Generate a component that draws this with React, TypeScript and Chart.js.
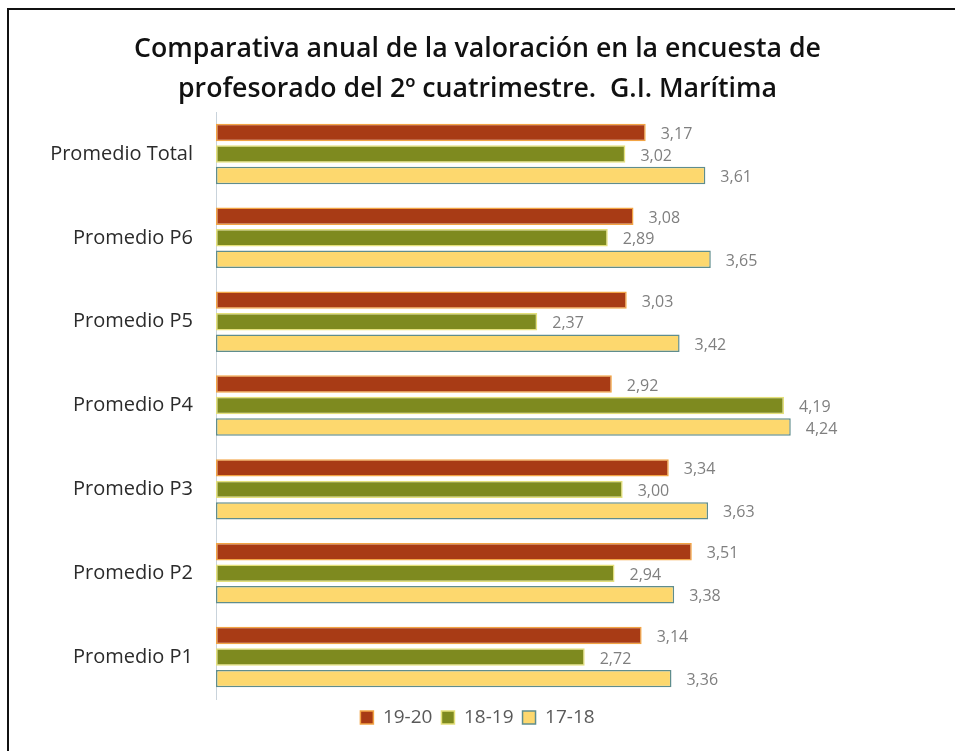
import React, { useEffect, useRef } from "react";
import { Chart, registerables } from "chart.js";

Chart.register(...registerables);

const categories = [
  "Promedio Total",
  "Promedio P6",
  "Promedio P5",
  "Promedio P4",
  "Promedio P3",
  "Promedio P2",
  "Promedio P1",
];
const series1920 = [3.17, 3.08, 3.03, 2.92, 3.34, 3.51, 3.14];
const series1819 = [3.02, 2.89, 2.37, 4.19, 3.0, 2.94, 2.72];
const series1718 = [3.61, 3.65, 3.42, 4.24, 3.63, 3.38, 3.36];
const seriesLabels = ["19-20", "18-19", "17-18"];
const titleLines = [
  "Comparativa anual de la valoración en la encuesta de",
  "profesorado del 2º cuatrimestre.  G.I. Marítima",
];

const FONT = "'Open Sans', Lato, sans-serif";

const valueLabels = {
  id: "valueLabels",
  afterDatasetsDraw(chart: any) {
    const ctx = chart.ctx;
    ctx.save();
    ctx.font = `16px ${FONT}`;
    ctx.fillStyle = "#7f7f7f";
    ctx.textAlign = "left";
    ctx.textBaseline = "middle";
    chart.data.datasets.forEach((ds: any, di: number) => {
      const meta = chart.getDatasetMeta(di);
      meta.data.forEach((el: any, i: number) => {
        const v = ds.data[i] as number;
        ctx.fillText(v.toFixed(2).replace(".", ","), el.x + 15, el.y + 2);
      });
    });
    ctx.restore();
  },
};

export default function App() {
  const ref = useRef<HTMLCanvasElement>(null);
  useEffect(() => {
    if (!ref.current) return;
    const chart = new Chart(ref.current, {
      type: "bar",
      data: {
        labels: categories,
        datasets: [
          {
            label: seriesLabels[0],
            data: series1920,
            backgroundColor: "#a83b15",
            borderColor: "#f2a444",
            borderWidth: 1.5,
            borderSkipped: false,
          },
          {
            label: seriesLabels[1],
            data: series1819,
            backgroundColor: "#7e8a1f",
            borderColor: "#e4e07a",
            borderWidth: 1.5,
            borderSkipped: false,
          },
          {
            label: seriesLabels[2],
            data: series1718,
            backgroundColor: "#fdd86e",
            borderColor: "#5f8d8d",
            borderWidth: 1.5,
            borderSkipped: false,
          },
        ],
      },
      options: {
        indexAxis: "y",
        animation: false,
        responsive: false,
        maintainAspectRatio: false,
        categoryPercentage: 0.77,
        barPercentage: 0.81,
        layout: { padding: { top: 0, bottom: 14, left: 0, right: 0 } },
        scales: {
          x: { display: false, min: 0, max: 4.5 },
          y: {
            position: "left",
            grid: { display: false, drawTicks: false },
            border: { display: true, color: "#c9d3db", width: 1 },
            ticks: {
              padding: 23,
              color: "#2b2b2b",
              font: { family: FONT, size: 20 },
            },
            afterFit: (s: any) => {
              s.width = 216;
            },
          },
          yRight: {
            type: "category",
            position: "right",
            display: true,
            grid: { display: false, drawTicks: false },
            border: { display: false },
            ticks: { display: false },
            afterFit: (s: any) => {
              s.width = 129;
            },
          },
        },
        plugins: {
          title: {
            display: true,
            text: titleLines,
            color: "#111111",
            font: { family: FONT, size: 26.7, weight: "600", lineHeight: 1.48 },
            padding: { top: 30, bottom: 3 },
          },
          legend: {
            display: true,
            position: "bottom",
            labels: {
              boxWidth: 13,
              boxHeight: 13,
              padding: 9,
              color: "#595959",
              font: { family: FONT, size: 19 },
            },
          },
          tooltip: { enabled: false },
        },
      },
      plugins: [valueLabels],
    } as any);
    return () => chart.destroy();
  }, []);

  return (
    <div
      style={{
        position: "fixed",
        left: 0,
        top: 0,
        width: 955,
        height: 751,
        overflow: "hidden",
        background: "#ffffff",
      }}
    >
      <canvas
        ref={ref}
        width={955}
        height={751}
        style={{ position: "absolute", left: 0, top: 0, width: 955, height: 751 }}
      />
      <div
        style={{
          position: "absolute",
          left: 7,
          top: 8,
          width: 1000,
          height: 1000,
          borderTop: "2px solid #111",
          borderLeft: "2px solid #111",
          pointerEvents: "none",
        }}
      />
    </div>
  );
}
